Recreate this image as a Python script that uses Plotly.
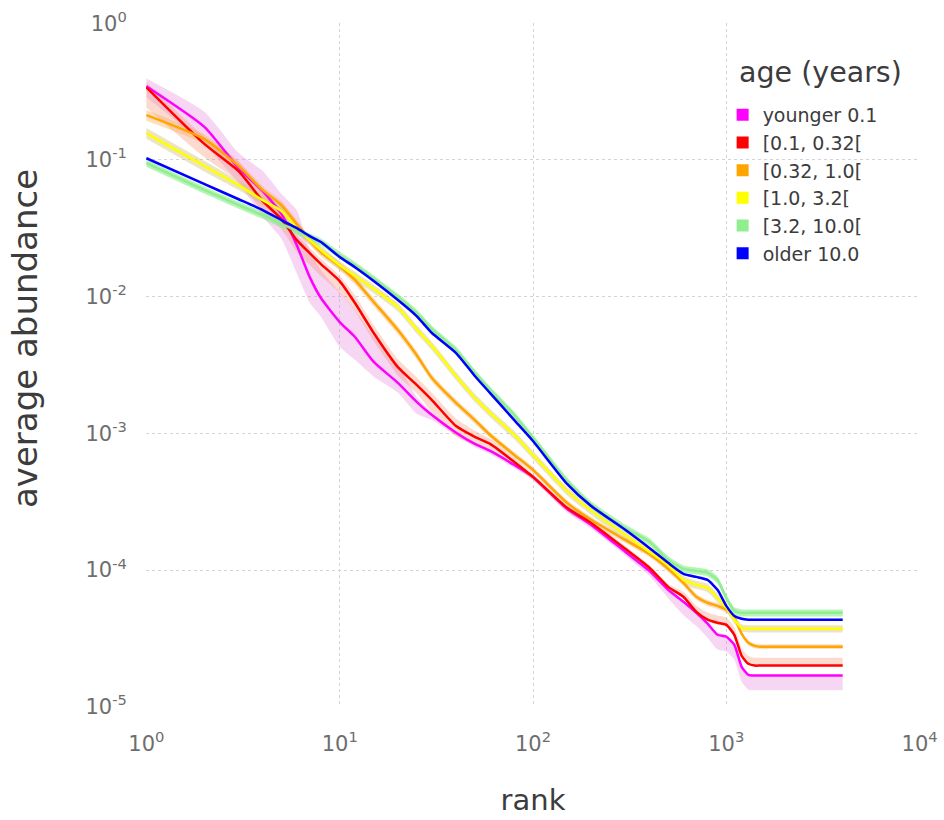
import plotly.graph_objects as go

# ---- data ----
rank = [1, 2, 3, 4, 5, 6, 7, 8, 10, 12, 15, 20, 25, 30, 40, 50, 60, 80, 100, 150,
        200, 300, 400, 500, 600, 700, 800, 900, 1000, 1100, 1200, 1300, 1400, 1500, 2000, 4000]

names = ["younger 0.1", "[0.1, 0.32[", "[0.32, 1.0[", "[1.0, 3.2[", "[3.2, 10.0[", "older 10.0"]
colors = ["#ff00ff", "#ff0000", "#ffa500", "#ffff00", "#90ee90", "#0000ff"]
band_colors = ["rgba(230,120,220,0.30)", "rgba(245,140,110,0.32)", "rgba(255,170,90,0.40)",
               "rgba(205,190,110,0.40)", "rgba(144,238,144,0.65)", "rgba(120,120,255,0.25)"]

younger = [0.346, 0.174, 0.0871, 0.0592, 0.0402, 0.0238, 0.0139, 0.00977, 0.00652, 0.00507,
           0.00333, 0.00234, 0.00170, 0.00136, 0.00101, 8.37e-4, 7.43e-4, 5.87e-4, 4.80e-4, 2.81e-4,
           2.14e-4, 1.36e-4, 9.86e-5, 7.16e-5, 5.86e-5, 4.86e-5, 4.05e-5, 3.36e-5, 3.25e-5, 2.84e-5,
           1.96e-5, 1.71e-5, 1.69e-5, 1.69e-5, 1.69e-5, 1.69e-5]
age_01_032 = [0.340, 0.1305, 0.0828, 0.0500, 0.0369, 0.0259, 0.0208, 0.0173, 0.0130, 0.00898,
              0.00542, 0.00305, 0.00226, 0.00175, 0.00113, 9.42e-4, 8.37e-4, 6.18e-4, 4.80e-4, 2.85e-4,
              2.21e-4, 1.43e-4, 1.04e-4, 7.53e-5, 6.37e-5, 4.94e-5, 4.33e-5, 4.11e-5, 3.97e-5, 3.36e-5,
              2.36e-5, 2.06e-5, 2.00e-5, 2.00e-5, 2.00e-5, 2.00e-5]
age_032_1 = [0.213, 0.142, 0.0902, 0.0601, 0.0468, 0.0340, 0.0259, 0.0212, 0.0167, 0.0132,
             0.00914, 0.00570, 0.00374, 0.00254, 0.00167, 0.00125, 9.73e-4, 6.95e-4, 5.40e-4, 3.10e-4,
             2.33e-4, 1.66e-4, 1.31e-4, 1.02e-4, 8.05e-5, 6.37e-5, 5.75e-5, 5.47e-5, 5.12e-5, 4.48e-5,
             3.42e-5, 2.94e-5, 2.79e-5, 2.75e-5, 2.75e-5, 2.75e-5]
age_1_32 = [0.157, 0.0902, 0.0655, 0.0508, 0.0423, 0.0317, 0.0259, 0.0219, 0.0170, 0.0142,
            0.0114, 0.00839, 0.00579, 0.00436, 0.00263, 0.00182, 0.00141, 9.73e-4, 6.95e-4, 3.79e-4,
            2.72e-4, 1.81e-4, 1.36e-4, 1.09e-4, 8.47e-5, 7.80e-5, 7.41e-5, 6.26e-5, 5.30e-5, 4.33e-5,
            3.78e-5, 3.72e-5, 3.72e-5, 3.72e-5, 3.72e-5, 3.72e-5]
age_32_10 = [0.0948, 0.0601, 0.0468, 0.0394, 0.0340, 0.0302, 0.0273, 0.0251, 0.0201, 0.0170,
             0.0135, 0.00993, 0.00759, 0.00579, 0.00407, 0.00277, 0.00208, 0.00136, 9.25e-4, 4.49e-4,
             3.00e-4, 2.03e-4, 1.61e-4, 1.19e-4, 1.02e-4, 9.86e-5, 9.55e-5, 8.47e-5, 6.26e-5, 5.03e-5,
             4.86e-5, 4.86e-5, 4.86e-5, 4.86e-5, 4.86e-5, 4.86e-5]
older = [0.103, 0.0665, 0.0516, 0.0430, 0.0363, 0.0317, 0.0277, 0.0251, 0.0195, 0.0164,
         0.0130, 0.00944, 0.00721, 0.00542, 0.00387, 0.00263, 0.00197, 0.00125, 8.79e-4, 4.27e-4,
         2.94e-4, 1.97e-4, 1.45e-4, 1.13e-4, 9.38e-5, 8.91e-5, 8.47e-5, 7.16e-5, 5.47e-5, 4.62e-5,
         4.40e-5, 4.33e-5, 4.33e-5, 4.33e-5, 4.33e-5, 4.33e-5]

# relative spread of the shaded bands (fraction above / below the mean)
younger_up = [0.14, 0.29, 0.29, 0.40, 0.40, 0.80, 0.58, 0.60, 0.66, 0.58, 0.52, 0.35, 0.09, 0.05, 0.03, 0.03,
              0.03, 0.03, 0.03, 0.05, 0.05, 0.05, 0.05, 0.05, 0.03, 0.03, 0.03, 0.03, 0.03, 0.03, 0.03, 0, 0, 0, 0, 0]
younger_dn = [0.17, 0.26, 0.22, 0.35, 0.34, 0.38, 0.35, 0.27, 0.34, 0.32, 0.22, 0.15, 0.18, 0.08, 0.05, 0.05,
              0.05, 0.05, 0.05, 0.06, 0.06, 0.06, 0.08, 0.13, 0.20, 0.20, 0.21, 0.22, 0.22, 0.22, 0.22, 0.22, 0.22,
              0.22, 0.22, 0.22]
age_01_032_up = [0.09, 0.13, 0.18, 0.18, 0.18, 0.09, 0.09, 0.09, 0.09, 0.14, 0.14, 0.14, 0.14, 0.13, 0.13, 0.11,
                 0.09, 0.07, 0.05, 0.05, 0.05, 0.05, 0.05, 0.05, 0.09, 0.11, 0.13, 0.13, 0.13, 0.13, 0.14, 0.14,
                 0.14, 0.14, 0.14, 0.14]
age_01_032_dn = [0.29, 0.20, 0.16, 0.16, 0.16, 0.18, 0.18, 0.18, 0.18, 0.13, 0.13, 0.13, 0.13, 0.18, 0.16, 0.13,
                 0.10, 0.07, 0.05, 0.05, 0.05, 0.05, 0.05, 0.05, 0.03, 0.03, 0.03, 0.03, 0.03, 0.03, 0, 0, 0, 0, 0, 0]
age_032_1_err = [0.09, 0.08, 0.08, 0.07, 0.07, 0.07, 0.07, 0.07, 0.07, 0.07, 0.07, 0.07, 0.07, 0.06, 0.06, 0.06,
                 0.05, 0.05, 0.05, 0.05, 0.05, 0.05, 0.05, 0.05, 0.05, 0.05, 0.05, 0.05, 0.05, 0.04, 0.04, 0.04,
                 0.04, 0.04, 0.04, 0.04]
age_1_32_err = [0.09, 0.09, 0.08, 0.08, 0.08, 0.08, 0.08, 0.07, 0.07, 0.07, 0.07, 0.07, 0.07, 0.07, 0.07, 0.07,
                0.07, 0.07, 0.07, 0.07, 0.07, 0.07, 0.07, 0.07, 0.07, 0.07, 0.07, 0.07, 0.06, 0.06, 0.06, 0.06,
                0.06, 0.06, 0.06, 0.06]
age_32_10_err = [0.06, 0.06, 0.06, 0.06, 0.06, 0.06, 0.06, 0.06, 0.06, 0.06, 0.06, 0.06, 0.06, 0.06, 0.06, 0.06,
                 0.06, 0.06, 0.06, 0.06, 0.06, 0.06, 0.06, 0.06, 0.06, 0.06, 0.06, 0.06, 0.06, 0.06, 0.06, 0.06,
                 0.06, 0.06, 0.06, 0.06]
older_err = [0.02, 0.02, 0.02, 0.02, 0.02, 0.02, 0.02, 0.02, 0.02, 0.02, 0.02, 0.02, 0.02, 0.02, 0.02, 0.02,
             0.02, 0.02, 0.02, 0.02, 0.02, 0.02, 0.02, 0.02, 0.02, 0.02, 0.02, 0.02, 0.02, 0.02, 0.02, 0.02,
             0.02, 0.02, 0.02, 0.02]

x_tickvals = [1, 10, 100, 1000, 10000]
x_ticktext = ["10<sup>0</sup>", "10<sup>1</sup>", "10<sup>2</sup>", "10<sup>3</sup>", "10<sup>4</sup>"]
y_tickvals = [1e-5, 1e-4, 1e-3, 1e-2, 1e-1, 1]
y_ticktext = ["10<sup>-5</sup>", "10<sup>-4</sup>", "10<sup>-3</sup>", "10<sup>-2</sup>", "10<sup>-1</sup>", "10<sup>0</sup>"]

series = [younger, age_01_032, age_032_1, age_1_32, age_32_10, older]
ups = [younger_up, age_01_032_up, age_032_1_err, age_1_32_err, age_32_10_err, older_err]
dns = [younger_dn, age_01_032_dn, age_032_1_err, age_1_32_err, age_32_10_err, older_err]

SMOOTH = 0.55
fig = go.Figure()

# shaded bands
for vals, up, dn, bc in zip(series, ups, dns, band_colors):
    lower = [v * (1 - d) for v, d in zip(vals, dn)]
    upper = [v * (1 + u) for v, u in zip(vals, up)]
    fig.add_trace(go.Scatter(x=rank, y=lower, mode="lines",
                             line=dict(width=0, color=bc, shape="spline", smoothing=SMOOTH),
                             showlegend=False, hoverinfo="skip"))
    fig.add_trace(go.Scatter(x=rank, y=upper, mode="lines",
                             line=dict(width=0, color=bc, shape="spline", smoothing=SMOOTH),
                             fill="tonexty", fillcolor=bc, showlegend=False, hoverinfo="skip"))

# mean lines
for vals, c, n in zip(series, colors, names):
    fig.add_trace(go.Scatter(x=rank, y=vals, mode="lines",
                             line=dict(color=c, width=2.5, shape="spline", smoothing=SMOOTH),
                             name=n, showlegend=False))

# legend entries (square markers)
for c, n in zip(colors, names):
    fig.add_trace(go.Scatter(x=[None], y=[None], mode="markers",
                             marker=dict(symbol="square", size=13, color=c),
                             name=n, showlegend=True))

axis_common = dict(
    type="log", automargin=False,
    showgrid=True, gridcolor="#d2d2d8", gridwidth=1, griddash="3px,3px",
    zeroline=False, showline=False,
    ticks="outside", tickcolor="rgba(0,0,0,0)",
    tickfont=dict(family="DejaVu Sans", size=21, color="#6e6e6e"),
)

fig.update_layout(
    width=944, height=820,
    margin=dict(l=146, r=24, t=23, b=113),
    paper_bgcolor="white", plot_bgcolor="white",
    font=dict(family="DejaVu Sans", color="#3c3c3c"),
    xaxis=dict(axis_common, range=[-0.002, 4.002], tickvals=x_tickvals, ticktext=x_ticktext, ticklen=18,
               title=dict(text="rank", font=dict(size=29, color="#3c3c3c"), standoff=34)),
    yaxis=dict(axis_common, range=[-5.002, 0.002], tickvals=y_tickvals, ticktext=y_ticktext, ticklen=14),
    legend=dict(x=0.745, y=0.8934, xanchor="left", yanchor="top",
                bgcolor="rgba(0,0,0,0)", borderwidth=0,
                traceorder="normal",
                font=dict(family="DejaVu Sans", size=19, color="#3c3c3c"),
                itemsizing="constant"),
    showlegend=True,
    annotations=[
        dict(text="age (years)", xref="paper", yref="paper",
             x=(737 - 146) / 774, y=1 - (72 - 23) / 684, xanchor="left", yanchor="middle",
             showarrow=False, font=dict(family="DejaVu Sans", size=28.5, color="#3c3c3c")),
        dict(text="average abundance", xref="paper", yref="paper", textangle=-90,
             x=(25 - 146) / 774, y=1 - (339 - 23) / 684, xanchor="center", yanchor="middle",
             showarrow=False, font=dict(family="DejaVu Sans", size=34, color="#3c3c3c")),
    ],
)

fig.write_html("out.html")
